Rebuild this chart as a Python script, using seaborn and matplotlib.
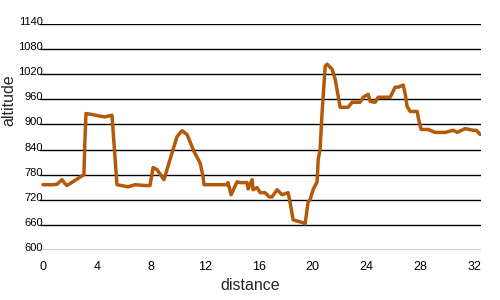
import matplotlib
matplotlib.use("Agg")
import matplotlib.pyplot as plt
import matplotlib.transforms as mtransforms
import seaborn as sns
import pandas as pd

distance = [0.0, 0.74, 1.05, 1.41, 1.60, 1.78, 3.04, 3.10, 3.19, 3.60, 4.20, 4.60, 5.12, 5.49,
            6.31, 6.83, 7.57, 7.94, 8.17, 8.46, 8.98, 9.65, 9.95, 10.32, 10.69, 11.21, 11.66,
            11.88, 11.95, 13.66, 13.73, 13.96, 14.40, 14.63, 15.14, 15.22, 15.52, 15.59, 15.89,
            16.11, 16.48, 16.78, 17.00, 17.37, 17.74, 18.19, 18.34, 18.56, 19.30, 19.45, 19.67,
            19.82, 20.04, 20.34, 20.42, 20.56, 20.71, 20.94, 21.08, 21.45, 21.68, 22.05, 22.64,
            22.94, 23.53, 23.76, 24.13, 24.28, 24.65, 24.87, 25.76, 26.13, 26.35, 26.73, 26.88,
            27.02, 27.25, 27.77, 27.84, 28.06, 28.58, 29.10, 29.84, 30.44, 30.73, 31.33, 31.92,
            32.15, 32.44]
altitude = [756, 756, 757, 768, 760, 754, 780, 850, 926, 924, 920, 918, 922, 756,
            751, 756, 754, 754, 797, 792, 768, 840, 871, 885, 876, 835, 808,
            775, 756, 756, 761, 732, 763, 761, 761, 746, 768, 744, 749,
            737, 737, 727, 727, 744, 732, 737, 713, 672, 665, 662, 715,
            720, 744, 763, 816, 840, 929, 1039, 1044, 1032, 1008, 941, 941,
            953, 953, 965, 972, 955, 953, 965, 965, 989, 989, 994, 972,
            943, 931, 931, 917, 888, 888, 881, 881, 886, 881, 890, 886,
            886, 876]
y_ticks = [600, 660, 720, 780, 840, 900, 960, 1020, 1080, 1140]
x_ticks = [0, 4, 8, 12, 16, 20, 24, 28, 32]

df = pd.DataFrame({"distance": distance, "altitude": altitude})

sns.set_style("white")
plt.rcParams["font.family"] = ["Liberation Sans", "DejaVu Sans"]

fig = plt.figure(figsize=(5, 3), dpi=100)
ax = fig.add_axes([0.08, 0.1667, 0.882, 0.7533])
sns.lineplot(data=df, x="distance", y="altitude", ax=ax, color="#b35a0a",
             linewidth=2.5, zorder=3)

ax.set_xlim(-0.22, 32.5)
ax.set_ylim(600, 1140)
ax.set_xticks(x_ticks)
ax.set_yticks(y_ticks)
ax.set_yticklabels([str(v) for v in y_ticks])
ax.grid(axis="y", color="black", linewidth=1.0)
ax.grid(axis="x", visible=False)
for s in ax.spines.values():
    s.set_visible(False)
ax.tick_params(axis="x", length=0, labelsize=9, colors="black", pad=8)
ax.tick_params(axis="y", length=0, labelsize=8, colors="black", pad=-2)
offset = mtransforms.ScaledTranslation(0, 3 / 100, fig.dpi_scale_trans)
for lab in ax.get_yticklabels():
    lab.set_transform(lab.get_transform() + offset)

ax.set_xlabel("distance", fontsize=11.5)
ax.set_ylabel("altitude", fontsize=11.5)
ax.xaxis.set_label_coords(0.476, -0.122)
ax.yaxis.set_label_coords(-0.054, 0.664)

fig.savefig("out.png", dpi=100)
